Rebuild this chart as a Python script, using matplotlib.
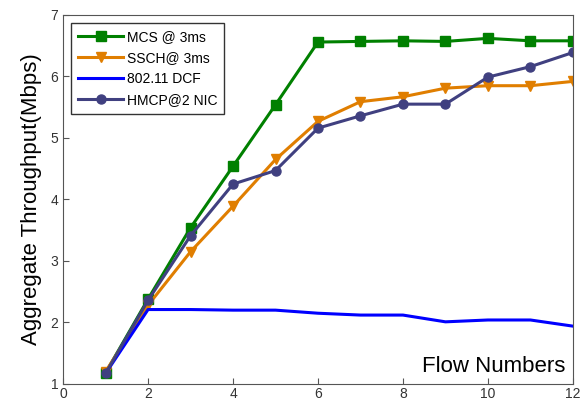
import matplotlib
matplotlib.use("Agg")
import matplotlib.pyplot as plt

flows = [1, 2, 3, 4, 5, 6, 7, 8, 9, 10, 11, 12]
mcs = [1.18, 2.38, 3.54, 4.54, 5.54, 6.56, 6.57, 6.58, 6.57, 6.62, 6.58, 6.58]
ssch = [1.2, 2.28, 3.15, 3.89, 4.65, 5.27, 5.59, 5.67, 5.81, 5.85, 5.85, 5.92]
dcf = [1.17, 2.21, 2.21, 2.2, 2.2, 2.15, 2.12, 2.12, 2.01, 2.04, 2.04, 1.94]
hmcp = [1.17, 2.36, 3.41, 4.25, 4.47, 5.16, 5.36, 5.55, 5.55, 5.99, 6.16, 6.39]
labels = ["MCS @ 3ms", "SSCH@ 3ms", "802.11 DCF", "HMCP@2 NIC"]

plt.rcParams['font.family'] = ['Liberation Sans', 'DejaVu Sans']
fig = plt.figure(figsize=(5.84, 4.05), dpi=100)
ax = fig.add_axes([0.108, 0.052, 0.873, 0.911])

ax.plot(flows, mcs, color='#008000', lw=2.2, marker='s', ms=6.5, label=labels[0])
ax.plot(flows, ssch, color='#E07E00', lw=2.2, marker='v', ms=7.5, label=labels[1])
ax.plot(flows, dcf, color='#0000FF', lw=2.2, label=labels[2])
ax.plot(flows, hmcp, color='#404080', lw=2.2, marker='o', ms=6.5, label=labels[3])

ax.set_xlim(0, 12)
ax.set_ylim(1, 7)
ax.set_xticks(range(0, 13, 2))
ax.set_yticks(range(1, 8))
for s in ax.spines.values():
    s.set_color('#555555')
ax.tick_params(direction='in', length=4, color='#555555', labelcolor='#333333', labelsize=10)
ax.tick_params(axis='x', pad=2)
ax.set_ylabel('Aggregate Throughput(Mbps)', fontsize=16, labelpad=6)
ax.text(0.985, 0.02, 'Flow Numbers', transform=ax.transAxes, ha='right', va='bottom', fontsize=16)

leg = ax.legend(loc='upper left', fontsize=10, fancybox=False, edgecolor='#333333',
                handlelength=3.2, borderaxespad=0.6, labelspacing=0.5, framealpha=1,
                borderpad=0.5, handletextpad=0.3)
leg.get_frame().set_linewidth(1.0)

fig.savefig('out.png', dpi=100)
